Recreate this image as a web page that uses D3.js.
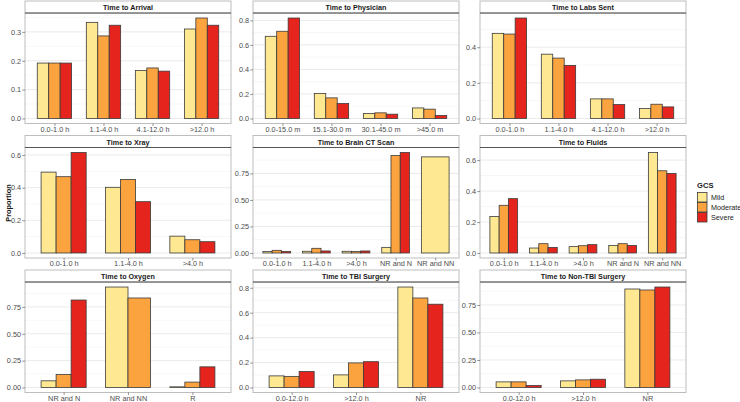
<!DOCTYPE html>
<html><head><meta charset="utf-8">
<script src="https://cdn.jsdelivr.net/npm/d3@7"></script>
<style>
html,body{margin:0;padding:0;background:#fff;}
svg{display:block;font-family:"Liberation Sans",Arial,sans-serif;}
</style></head>
<body><svg id="chart" width="740" height="402"></svg>
<script>
// ---- data ----
const groups = ["Mild", "Moderate", "Severe"];
const groupColors = ["#FEE891", "#FBA33E", "#E4241D"];

const panelTitles = ["Time to Arrival", "Time to Physician", "Time to Labs Sent",
  "Time to Xray", "Time to Brain CT Scan", "Time to Fluids",
  "Time to Oxygen", "Time to TBI Surgery", "Time to Non-TBI Surgery"];

const arrivalCats = ["0.0-1.0 h", "1.1-4.0 h", "4.1-12.0 h", ">12.0 h"];
const arrivalMild = [0.192, 0.333, 0.166, 0.310];
const arrivalModerate = [0.192, 0.286, 0.175, 0.348];
const arrivalSevere = [0.192, 0.323, 0.164, 0.323];
const arrivalTicks = [0, 0.1, 0.2, 0.3];

const physicianCats = ["0.0-15.0 m", "15.1-30.0 m", "30.1-45.0 m", ">45.0 m"];
const physicianMild = [0.670, 0.203, 0.041, 0.086];
const physicianModerate = [0.711, 0.168, 0.046, 0.076];
const physicianSevere = [0.819, 0.122, 0.035, 0.024];
const physicianTicks = [0, 0.2, 0.4, 0.6, 0.8];

const labsCats = ["0.0-1.0 h", "1.1-4.0 h", "4.1-12.0 h", ">12.0 h"];
const labsMild = [0.478, 0.361, 0.110, 0.056];
const labsModerate = [0.474, 0.339, 0.110, 0.080];
const labsSevere = [0.564, 0.298, 0.078, 0.065];
const labsTicks = [0, 0.2, 0.4];

const xrayCats = ["0.0-1.0 h", "1.1-4.0 h", ">4.0 h"];
const xrayMild = [0.495, 0.402, 0.103];
const xrayModerate = [0.467, 0.450, 0.081];
const xraySevere = [0.615, 0.314, 0.069];
const xrayTicks = [0, 0.2, 0.4, 0.6];

const ctCats = ["0.0-1.0 h", "1.1-4.0 h", ">4.0 h", "NR and N", "NR and NN"];
const ctMild = [0.013, 0.016, 0.016, 0.053, 0.906];
const ctModerate = [0.025, 0.044, 0.013, 0.918, null];
const ctSevere = [0.013, 0.019, 0.019, 0.947, null];
const ctTicks = [0, 0.25, 0.5, 0.75];

const fluidsCats = ["0.0-1.0 h", "1.1-4.0 h", ">4.0 h", "NR and N", "NR and NN"];
const fluidsMild = [0.236, 0.032, 0.041, 0.049, 0.649];
const fluidsModerate = [0.308, 0.060, 0.047, 0.060, 0.531];
const fluidsSevere = [0.351, 0.036, 0.054, 0.049, 0.514];
const fluidsTicks = [0, 0.2, 0.4, 0.6];

const oxygenCats = ["NR and N", "NR and NN", "R"];
const oxygenMild = [0.062, 0.935, 0.006];
const oxygenModerate = [0.121, 0.833, 0.050];
const oxygenSevere = [0.814, null, 0.192];
const oxygenTicks = [0, 0.25, 0.5, 0.75];

const tbiCats = ["0.0-12.0 h", ">12.0 h", "NR"];
const tbiMild = [0.093, 0.101, 0.806];
const tbiModerate = [0.088, 0.197, 0.718];
const tbiSevere = [0.128, 0.207, 0.668];
const tbiTicks = [0, 0.2, 0.4, 0.6, 0.8];

const nontbiCats = ["0.0-12.0 h", ">12.0 h", "NR"];
const nontbiMild = [0.051, 0.060, 0.895];
const nontbiModerate = [0.051, 0.069, 0.886];
const nontbiSevere = [0.018, 0.075, 0.913];
const nontbiTicks = [0, 0.25, 0.5, 0.75];

const panels = [
  {cats: arrivalCats, vals: [arrivalMild, arrivalModerate, arrivalSevere], ticks: arrivalTicks, dec: 1},
  {cats: physicianCats, vals: [physicianMild, physicianModerate, physicianSevere], ticks: physicianTicks, dec: 1},
  {cats: labsCats, vals: [labsMild, labsModerate, labsSevere], ticks: labsTicks, dec: 1},
  {cats: xrayCats, vals: [xrayMild, xrayModerate, xraySevere], ticks: xrayTicks, dec: 1},
  {cats: ctCats, vals: [ctMild, ctModerate, ctSevere], ticks: ctTicks, dec: 2},
  {cats: fluidsCats, vals: [fluidsMild, fluidsModerate, fluidsSevere], ticks: fluidsTicks, dec: 1},
  {cats: oxygenCats, vals: [oxygenMild, oxygenModerate, oxygenSevere], ticks: oxygenTicks, dec: 2},
  {cats: tbiCats, vals: [tbiMild, tbiModerate, tbiSevere], ticks: tbiTicks, dec: 1},
  {cats: nontbiCats, vals: [nontbiMild, nontbiModerate, nontbiSevere], ticks: nontbiTicks, dec: 2}
];

// ---- layout ----
const colX = [25, 253, 480];
const rowY = [1, 135.5, 270];
const panelW = 206, stripH = 12, panelH = 110.5;
const fontAxis = 7.3, fontStrip = 7.2;

const svg = d3.select("#chart");

panels.forEach((p, i) => {
  const col = i % 3, row = Math.floor(i / 3);
  const x0 = colX[col], yStrip = rowY[row], y0 = yStrip + stripH;
  const g = svg.append("g").attr("transform", `translate(${x0},${y0})`);

  const allVals = p.vals.flat().filter(v => v != null);
  const maxV = d3.max(allVals);
  const y = d3.scaleLinear().domain([-0.05 * maxV, 1.05 * maxV]).range([panelH, 0]);
  const x = d3.scalePoint().domain(p.cats).range([0, panelW]).padding(0.6);
  const step = x.step();

  // gridlines
  const t = p.ticks, st = t[1] - t[0];
  const minor = [];
  minor.push(t[0] - st / 2);
  for (let k = 0; k < t.length - 1; k++) minor.push((t[k] + t[k + 1]) / 2);
  minor.push(t[t.length - 1] + st / 2);
  const [d0, d1] = y.domain();
  g.selectAll("line.minor").data(minor.filter(v => v >= d0 && v <= d1)).join("line")
    .attr("x1", 0).attr("x2", panelW).attr("y1", d => y(d)).attr("y2", d => y(d))
    .attr("stroke", "#efefef").attr("stroke-width", 0.5);
  g.selectAll("line.major").data(t).join("line")
    .attr("x1", 0).attr("x2", panelW).attr("y1", d => y(d)).attr("y2", d => y(d))
    .attr("stroke", "#e2e2e2").attr("stroke-width", 0.7);

  // bars
  const bars = [];
  p.cats.forEach((c, ci) => {
    const present = groups.map((gname, gi) => gi).filter(gi => p.vals[gi][ci] != null);
    const n = present.length;
    const totalW = 0.7 * step, bw = totalW / n;
    present.forEach((gi, k) => {
      bars.push({x: x(c) - totalW / 2 + k * bw, w: bw, v: p.vals[gi][ci], gi});
    });
  });
  g.selectAll("rect.bar").data(bars).join("rect")
    .attr("x", d => d.x).attr("width", d => d.w)
    .attr("y", d => y(d.v)).attr("height", d => y(0) - y(d.v))
    .attr("fill", d => groupColors[d.gi])
    .attr("stroke", "#3b3b3b").attr("stroke-width", 0.8);

  // panel border
  g.append("rect").attr("x", 0).attr("y", 0).attr("width", panelW).attr("height", panelH)
    .attr("fill", "none").attr("stroke", "#bdbdbd").attr("stroke-width", 1);

  // strip
  svg.append("rect").attr("x", x0).attr("y", yStrip).attr("width", panelW).attr("height", stripH)
    .attr("fill", "#fff").attr("stroke", "#bdbdbd").attr("stroke-width", 1);
  svg.append("line").attr("x1", x0).attr("x2", x0 + panelW).attr("y1", y0).attr("y2", y0)
    .attr("stroke", "#555").attr("stroke-width", 1);
  svg.append("text").attr("x", x0 + panelW / 2).attr("y", yStrip + stripH / 2 + 0.5)
    .attr("text-anchor", "middle").attr("dominant-baseline", "central")
    .attr("font-size", fontStrip).attr("font-weight", "bold").attr("fill", "#1a1a1a")
    .text(panelTitles[i]);

  // axes
  const fmt = d3.format("." + p.dec + "f");
  const ya = g.append("g").call(d3.axisLeft(y).tickValues(p.ticks).tickFormat(fmt).tickSize(2.75).tickPadding(1.2));
  ya.select(".domain").remove();
  ya.selectAll("line").attr("stroke", "#4d4d4d").attr("stroke-width", 0.6);
  ya.selectAll("text").attr("font-size", fontAxis).attr("fill", "#4d4d4d").attr("font-family", null);

  const xa = g.append("g").attr("transform", `translate(0,${panelH})`)
    .call(d3.axisBottom(x).tickSize(2.5).tickPadding(0.6));
  xa.select(".domain").remove();
  xa.selectAll("line").attr("stroke", "#4d4d4d").attr("stroke-width", 0.6);
  xa.selectAll("text").attr("font-size", fontAxis).attr("fill", "#4d4d4d").attr("font-family", null)
    .attr("dy", "0.68em");
});

// y axis title
svg.append("text").attr("transform", "translate(8.5,203) rotate(-90)")
  .attr("text-anchor", "middle").attr("dominant-baseline", "central")
  .attr("font-size", 7.3).attr("font-weight", "bold").attr("fill", "#1a1a1a").text("Proportion");

// legend
const lg = svg.append("g").attr("transform", "translate(697,180)");
lg.append("text").attr("x", 0).attr("y", 5).attr("dominant-baseline", "central")
  .attr("font-size", 7.6).attr("font-weight", "bold").attr("fill", "#1a1a1a").text("GCS");
groups.forEach((gname, gi) => {
  lg.append("rect").attr("x", 0.5).attr("y", 12.5 + gi * 10).attr("width", 9.5).attr("height", 9.5)
    .attr("fill", groupColors[gi]).attr("stroke", "#3b3b3b").attr("stroke-width", 0.8);
  lg.append("text").attr("x", 14).attr("y", 17.5 + gi * 10).attr("dominant-baseline", "central")
    .attr("font-size", 7.2).attr("fill", "#1a1a1a").text(gname);
});
</script></body></html>
